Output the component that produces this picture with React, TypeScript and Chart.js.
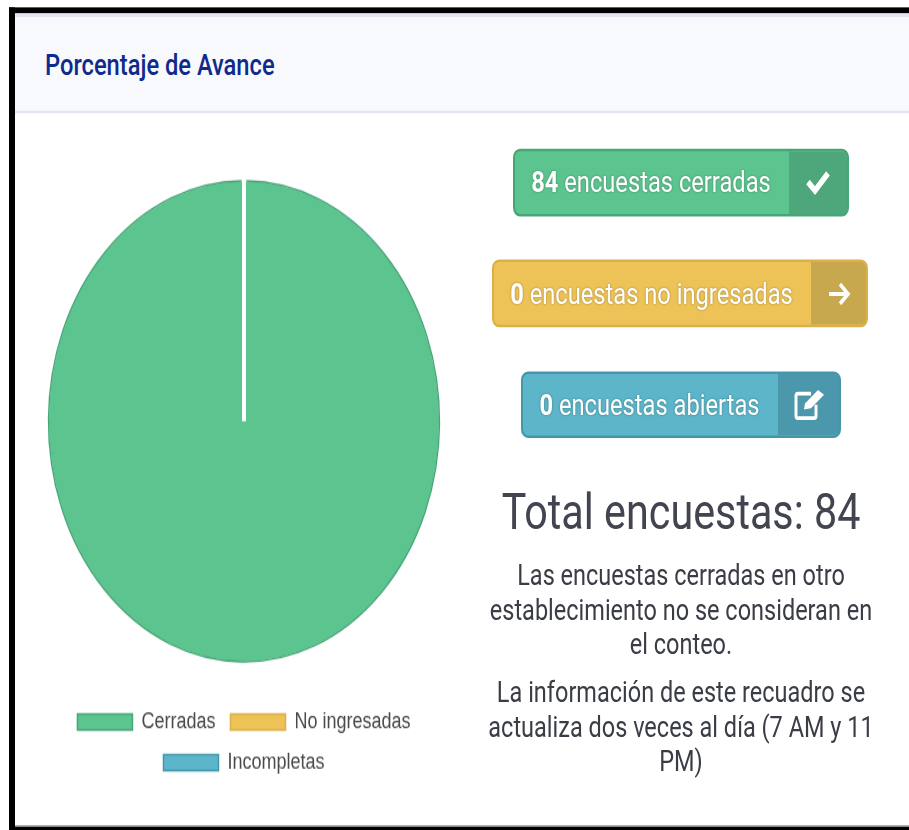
import React, { useEffect, useRef } from "react";
import { Chart, registerables } from "chart.js";

Chart.register(...registerables);

const categories = ["Cerradas", "No ingresadas", "Incompletas"];
const values = [84, 0, 0];
const fills = ["#5cc48f", "#edc257", "#5cb5c9"];
const edges = ["#45a676", "#dcb048", "#4497ab"];

const SY = 1.23;
const y = (v: number) => v / SY;

const edgePlugin = {
  id: "pieEdge",
  afterDatasetsDraw(chart: any) {
    const arc = chart.getDatasetMeta(0).data[0];
    const { ctx } = chart;
    ctx.save();
    ctx.strokeStyle = edges[0];
    ctx.lineWidth = 1.4;
    ctx.beginPath();
    ctx.arc(arc.x, arc.y, arc.outerRadius - 1.5, arc.startAngle + 0.012, arc.endAngle - 0.012);
    ctx.stroke();
    ctx.restore();
  },
};

function Check() {
  return (
    <svg width="26" height="22" viewBox="0 0 26 22">
      <path d="M3 11 L10 18 L23 4" fill="none" stroke="#fff" strokeWidth="5" />
    </svg>
  );
}
function ArrowIcon() {
  return (
    <svg width="24" height="20" viewBox="0 0 24 20">
      <path d="M2 10 H21 M13 2 L21 10 L13 18" fill="none" stroke="#fff" strokeWidth="3.4" />
    </svg>
  );
}
function EditIcon() {
  return (
    <svg width="32" height="26" viewBox="0 0 32 26">
      <path d="M18 4 H5 Q3 4 3 6 V22 Q3 24 5 24 H21 Q23 24 23 22 V13" fill="none" stroke="#fff" strokeWidth="3" />
      <path d="M11 17 L12 12 L25 1 L31 5 L18 16 Z" fill="#fff" />
    </svg>
  );
}

const buttons = [
  { count: values[0], label: " encuestas cerradas", x0: 513, x1: 849, split: 789, top: 149, bottom: 216, fill: fills[0], dark: "#4da77b", edge: edges[0], icon: <Check /> },
  { count: values[1], label: " encuestas no ingresadas", x0: 492, x1: 868, split: 811, top: 260, bottom: 327, fill: fills[1], dark: "#c8a84f", edge: edges[1], icon: <ArrowIcon /> },
  { count: values[2], label: " encuestas abiertas", x0: 521, x1: 841, split: 778, top: 371, bottom: 438, fill: fills[2], dark: "#4b97ab", edge: edges[2], icon: <EditIcon /> },
];

export default function App() {
  const ref = useRef<HTMLCanvasElement>(null);
  useEffect(() => {
    const chart = new Chart(ref.current!, {
      type: "pie",
      data: {
        labels: categories,
        datasets: [{ data: values, backgroundColor: fills, borderColor: "#fff", borderWidth: 4 }],
      },
      options: {
        animation: false,
        responsive: false,
        radius: 197,
        layout: { padding: 0 },
        plugins: {
          tooltip: { enabled: false },
          legend: {
            position: "bottom",
            labels: {
              boxWidth: 55,
              boxHeight: 13,
              padding: 15,
              color: "#4a4a4a",
              font: { family: "'Liberation Sans'", size: 18 },
              generateLabels: () =>
                categories.map((text, i) => ({
                  text,
                  fillStyle: fills[i],
                  strokeStyle: edges[i],
                  lineWidth: 1.5,
                  hidden: false,
                  index: i,
                  fontColor: "#4a4a4a",
                })),
            },
          },
        },
      },
      plugins: [edgePlugin],
    } as any);
    return () => chart.destroy();
  }, []);

  return (
    <>
      <style>{`html,body{margin:0;padding:0;background:#fff;overflow:hidden}`}</style>
      <div style={{ position: "absolute", left: 0, top: 0, width: 909, height: 830 / SY, transform: `scaleY(${SY})`, transformOrigin: "0 0", fontFamily: "Roboto", overflow: "hidden" }}>
        {/* black frame */}
        <div style={{ position: "absolute", left: 9, top: y(7), right: 0, height: y(7), background: "#000" }} />
        <div style={{ position: "absolute", left: 9, top: y(7), width: 6, height: y(823), background: "#000" }} />
        <div style={{ position: "absolute", left: 9, top: y(827), right: 0, height: y(3), background: "#000" }} />
        <div style={{ position: "absolute", left: 15, top: y(825), right: 0, height: y(2), background: "#888" }} />
        {/* header */}
        <div style={{ position: "absolute", left: 15, top: y(14), right: 0, height: y(99), background: "#f8f9fc", borderBottom: "2px solid #e3e6f0", boxSizing: "border-box", borderTop: "3px solid #e3e6f0" }} />
        <div style={{ position: "absolute", left: 45, top: y(65), transform: "translateY(-50%)", fontSize: 23.7, fontWeight: 500, color: "#0f2a8c", whiteSpace: "nowrap" }}>
          Porcentaje de Avance
        </div>
        <canvas ref={ref} width={470} height={517} style={{ position: "absolute", left: 9, top: 122 }} />
        {buttons.map((b) => (
          <div key={b.label} style={{ position: "absolute", left: b.x0, width: b.x1 - b.x0, top: y(b.top), height: y(b.bottom - b.top), background: b.fill, border: `2px solid ${b.edge}`, boxSizing: "border-box", borderRadius: 7, overflow: "hidden", color: "#fff", fontSize: 23.7 }}>
            <div style={{ position: "absolute", left: -2, width: b.split - b.x0, top: 0, bottom: 0, display: "flex", alignItems: "center", justifyContent: "center", whiteSpace: "pre" }}>
              <span style={{ textShadow: "0 0 2px rgba(0,0,0,.35)" }}>
                <b>{b.count}</b>
                {b.label}
              </span>
            </div>
            <div style={{ position: "absolute", left: b.split - b.x0 - 2, right: 0, top: 0, bottom: 0, background: b.dark, display: "flex", alignItems: "center", justifyContent: "center" }}>{b.icon}</div>
          </div>
        ))}
        <div style={{ position: "absolute", left: 461, width: 440, top: y(512), transform: "translateY(-50%)", textAlign: "center", fontSize: 41.3, color: "#424550", whiteSpace: "nowrap" }}>
          Total encuestas: 84
        </div>
        <div style={{ position: "absolute", left: 461, width: 440, top: y(558), textAlign: "center", fontSize: 23.5, lineHeight: `${y(34.6)}px`, color: "#3a3c46", whiteSpace: "nowrap" }}>
          Las encuestas cerradas en otro<br />establecimiento no se consideran en<br />el conteo.
        </div>
        <div style={{ position: "absolute", left: 461, width: 440, top: y(675), textAlign: "center", fontSize: 23.5, lineHeight: `${y(34.6)}px`, color: "#3a3c46", whiteSpace: "nowrap" }}>
          La información de este recuadro se<br />actualiza dos veces al día (7 AM y 11<br />PM)
        </div>
      </div>
    </>
  );
}
